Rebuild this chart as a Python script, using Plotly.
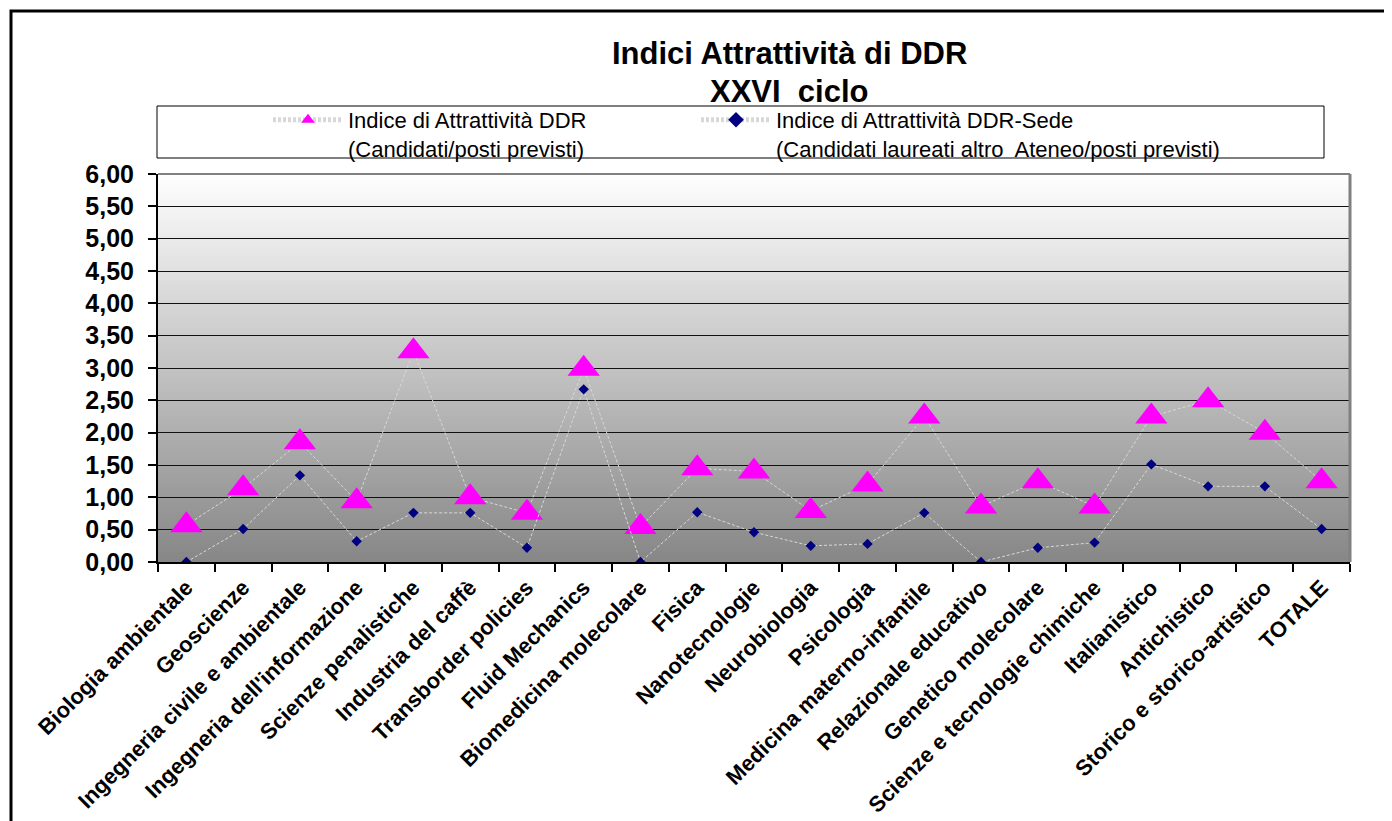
import plotly.graph_objects as go

categories = ["Biologia ambientale", "Geoscienze", "Ingegneria civile e ambientale",
              "Ingegneria dell'informazione", "Scienze penalistiche", "Industria del caffè",
              "Transborder policies", "Fluid Mechanics", "Biomedicina molecolare", "Fisica",
              "Nanotecnologie", "Neurobiologia", "Psicologia", "Medicina materno-infantile",
              "Relazionale educativo", "Genetico molecolare", "Scienze e tecnologie chimiche",
              "Italianistico", "Antichistico", "Storico e storico-artistico", "TOTALE"]

indice_ddr = [0.57, 1.14, 1.85, 0.94, 3.26, 1.00, 0.76, 2.99, 0.54, 1.45, 1.40,
              0.79, 1.20, 2.25, 0.86, 1.25, 0.86, 2.25, 2.50, 2.00, 1.25]
indice_sede = [0.00, 0.51, 1.34, 0.32, 0.76, 0.76, 0.22, 2.67, 0.00, 0.77, 0.46,
               0.25, 0.28, 0.76, 0.00, 0.22, 0.30, 1.51, 1.17, 1.17, 0.51]

name_ddr = "Indice di Attrattività DDR<br>(Candidati/posti previsti)"
name_sede = "Indice di Attrattività DDR-Sede<br>(Candidati laureati altro  Ateneo/posti previsti)"
title_lines = ["Indici Attrattività di DDR", "XXVI  ciclo"]

OFF = 8  # page body margin
W, H = 1392 - OFF, 821 - OFF
# plot area in screen pixels
SL, SR, ST, SB = 158, 1350, 174, 562
L, R, T, B = SL - OFF, SR - OFF, ST - OFF, SB - OFF
pw, ph = R - L, B - T


def px(xs):
    return (xs - OFF - L) / pw


def py(ys):
    return (B - (ys - OFF)) / ph


FONT = "Arial, Liberation Sans, sans-serif"
LINE_STYLE = dict(color="#d8d8d8", width=1, dash="3px,2px")

fig = go.Figure()
fig.add_trace(go.Scatter(
    x=categories, y=indice_ddr, name=name_ddr, mode="lines+markers",
    line=LINE_STYLE, legend="legend",
    marker=dict(symbol="triangle-up", size=28, color="#ff00ff"),
))
fig.add_trace(go.Scatter(
    x=categories, y=indice_sede, name=name_sede, mode="lines+markers",
    line=LINE_STYLE, legend="legend2",
    marker=dict(symbol="diamond", size=8, color="#000080"),
))

shapes = []
N = 120
top_c, bot_c = 255, 134
for i in range(N):
    f0 = i / N
    f1 = (i + 1) / N + 0.002
    c = int(round(bot_c + (top_c - bot_c) * (i + 0.5) / N))
    shapes.append(dict(type="rect", xref="x domain", yref="y domain",
                       x0=0, x1=1, y0=f0, y1=min(f1, 1), layer="below",
                       fillcolor=f"rgb({c},{c},{c})", line=dict(width=0)))
# top and right border of plot area (grey)
shapes.append(dict(type="line", xref="x domain", yref="y domain", x0=0, x1=1, y0=1, y1=1,
                   line=dict(color="#808080", width=2), layer="above"))
shapes.append(dict(type="line", xref="x domain", yref="y domain", x0=1, x1=1, y0=0, y1=1,
                   line=dict(color="#808080", width=3), layer="above"))
# legend box
shapes.append(dict(type="rect", xref="paper", yref="paper",
                   x0=px(157), x1=px(1324), y0=py(158), y1=py(106),
                   line=dict(color="black", width=1), fillcolor="rgba(0,0,0,0)"))
# outer frame
shapes.append(dict(type="rect", xref="paper", yref="paper",
                   x0=px(11), x1=px(1420), y0=py(860), y1=py(11),
                   line=dict(color="black", width=3), fillcolor="rgba(0,0,0,0)"))

annotations = [
    dict(text=f"<b>{title_lines[0]}</b>", xref="paper", yref="paper", x=px(789), y=py(53),
         xanchor="center", yanchor="middle", showarrow=False,
         font=dict(family=FONT, size=31, color="black")),
    dict(text=f"<b>{title_lines[1]}</b>", xref="paper", yref="paper", x=px(789), y=py(91),
         xanchor="center", yanchor="middle", showarrow=False,
         font=dict(family=FONT, size=31, color="black")),
]

legend_common = dict(xanchor="left", yanchor="top", valign="top", itemwidth=70,
                     bgcolor="rgba(0,0,0,0)", borderwidth=0, itemsizing="constant",
                     font=dict(family=FONT, size=22, color="black"))

fig.update_layout(
    width=W, height=H, autosize=False,
    margin=dict(l=L, r=W - R, t=T, b=H - B, pad=0, autoexpand=False),
    paper_bgcolor="white", plot_bgcolor="white",
    separators=", ",
    shapes=shapes, annotations=annotations,
    showlegend=True,
    legend=dict(x=px(268), y=py(99), **legend_common),
    legend2=dict(x=px(696), y=py(99), **legend_common),
    font=dict(family=FONT, color="black"),
)
fig.update_xaxes(
    type="category", range=[-0.5, len(categories) - 0.5], automargin=False,
    showline=True, linecolor="black", linewidth=2, mirror=False,
    showgrid=False, tickson="boundaries", ticks="outside", ticklen=8, tickwidth=2,
    tickcolor="black", tickangle=-45, ticklabelstandoff=2,
    tickfont=dict(family=FONT, size=22, color="black", weight="bold"),
)
fig.update_yaxes(
    range=[0, 6], dtick=0.5, tick0=0, tickformat=".2f", automargin=False,
    showline=True, linecolor="black", linewidth=2,
    showgrid=True, gridcolor="#111111", gridwidth=1.3, zeroline=False,
    ticks="outside", ticklen=8, tickwidth=2, tickcolor="black",
    ticklabelstandoff=9,
    tickfont=dict(family=FONT, size=25, color="black", weight="bold"),
)

fig.write_html("out.html")
